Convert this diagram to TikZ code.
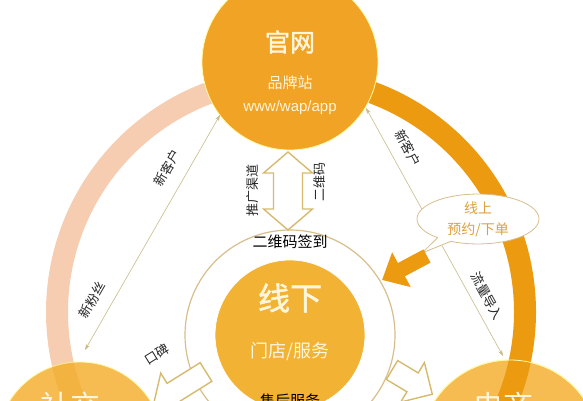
\documentclass[tikz,border=0pt]{standalone}
\usepackage{fontspec}
\setmainfont{Noto Sans CJK SC}
\newfontfamily\cjkbold[FakeBold=1.5]{Noto Sans CJK SC}
\newfontfamily\latinfont{Liberation Sans}
\usetikzlibrary{shapes.callouts,arrows.meta}
\definecolor{siteorange}{HTML}{F0A324}
\definecolor{ringorange}{HTML}{EC9B10}
\definecolor{peach}{HTML}{F6CDB0}
\definecolor{lightorange}{HTML}{F6BC52}
\definecolor{midorange}{HTML}{F2B234}
\definecolor{ringtan}{HTML}{D8BE8C}
\definecolor{gold}{HTML}{D6BA6E}
\definecolor{cream}{HTML}{FFF6DC}
\definecolor{lineolive}{HTML}{C8BC88}
\definecolor{callouttext}{HTML}{DDA040}
\tikzset{
twohead/.pic={\draw[hollow] (-39,0) -- (-18,24.5) -- (-18,14.5) -- (18,14.5) -- (18,24.5)
 -- (39,0) -- (18,-24.5) -- (18,-14.5) -- (-18,-14.5) -- (-18,-24.5) -- cycle;},
onehead/.pic={\draw[hollow] (0,-11) -- (#1-23,-11) -- (#1-23,-23) -- (#1,0)
 -- (#1-23,23) -- (#1-23,11) -- (0,11) -- cycle;}
}
\begin{document}
\begin{tikzpicture}[x=1pt,y=1pt,
every node/.style={inner sep=0pt},
hub/.style={circle,fill=#1,draw=yellow!35!white,line width=0.8pt},
title/.style={text=cream,font=\fontsize{#1}{#1}\selectfont},
tag/.style={text=black!85,font=\fontsize{13}{13}\selectfont},
hollow/.style={draw=gold,line width=1.4pt,fill=white,line join=miter},
flow/.style={draw=lineolive,line width=0.6pt,
{Stealth[length=6pt,width=4pt]}-{Stealth[length=6pt,width=4pt]}}
]
\clip (0,0) rectangle (583,400);
\fill[white] (0,0) rectangle (583,400);
\coordinate (ringc) at (291,88);
% big ring, left half
\draw[peach,line width=22pt] ([shift={(100:234)}]ringc) arc[start angle=100,end angle=215,radius=234];
\node[hub=lightorange,minimum size=166pt] (social) at (80,-45) {};
\begin{scope}
\clip (80,-45) circle (83);
\draw[ringorange,opacity=0.25,line width=22pt] ([shift={(150:234)}]ringc) arc[start angle=150,end angle=215,radius=234];
\end{scope}
% big ring, right half
\node[hub=lightorange,minimum size=180pt] (shop) at (510,-50) {};
\draw[ringorange,line width=22pt] ([shift={(80:234)}]ringc) arc[start angle=80,end angle=-30,radius=234];
\draw[yellow!35!white,line width=0.8pt] (510,-50) circle (90);
% site
\node[hub=siteorange,minimum size=176pt] (site) at (290,338) {};
\node[title=25,font=\cjkbold\fontsize{25}{25}\selectfont] at (290,358) {官网};
\node[title=15] at (290,317) {品牌站};
\node[title=15,font=\latinfont\fontsize{15}{15}\selectfont] at (290,292) {www/wap/app};
% offline
\node[circle,draw=ringtan,line width=1.2pt,minimum size=210pt] (ring) at (290,65) {};
\node[hub=midorange,draw=white,minimum size=150pt] (offline) at (290,65) {};
\node[title=32,font=\cjkbold\fontsize{32}{32}\selectfont] at (290,102) {线下};
\node[title=18] at (290,48) {门店/服务};
\node[font=\fontsize{15}{15}\selectfont] at (290,158) {二维码签到};
\node[font=\fontsize{15}{15}\selectfont] at (290,-1) {售后服务};
% bottom circles
\node[title=30] at (70,-6) {社交};
\node[title=30] at (503,-6) {电商};
% hollow arrows
\pic[rotate=90] at (288,209) {twohead};
\node[tag,rotate=90] at (253,210) {推广渠道};
\node[tag,rotate=90] at (320,218) {二维码};
\pic[rotate=212] at (206,28) {onehead=62};
\node[tag,rotate=32] at (157,46) {口碑};
\pic[rotate=-31] at (392,30) {onehead=47};
% thin links
\coordinate (lt) at (220,285);
\coordinate (lb) at (85,50);
\coordinate (rt) at (366,292);
\coordinate (rb) at (503,44);
\draw[flow] (lt) -- (lb);
\draw[flow] (rt) -- (rb);
\node[tag,rotate=60] at (167,232) {新客户};
\node[tag,rotate=60] at (92,100) {新粉丝};
\node[tag,rotate=-61] at (408,252) {新客户};
\node[tag,rotate=-61] at (487,104) {流量导入};
% online callout
\node[ellipse callout,draw=ringtan,fill=white,line width=0.8pt,
minimum width=122pt,minimum height=48pt,
callout absolute pointer={(422,147)},align=center,text=callouttext,
font=\fontsize{14}{21}\selectfont] (online) at (478,181) {线上\\预约/下单};
\coordinate (pushtail) at (427,144);
\coordinate (pushtip) at (382,120);
\draw[ringorange,line width=15pt,-{Triangle[width=38pt,length=22pt]}] (pushtail) -- (pushtip);
\end{tikzpicture}
\end{document}
